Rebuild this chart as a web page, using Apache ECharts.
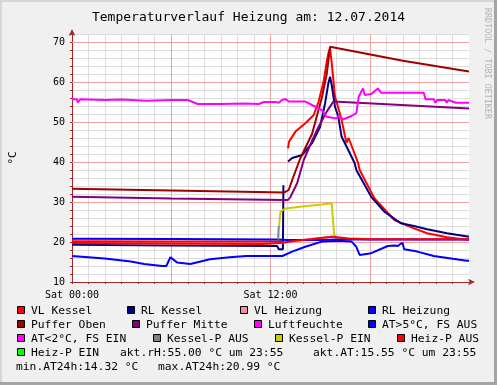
<!DOCTYPE html>
<html><head><meta charset="utf-8">
<script src="https://cdn.jsdelivr.net/npm/echarts@6/dist/echarts.min.js"></script>
<style>html,body{margin:0;padding:0;background:#F0F0F0}#c{width:497px;height:385px}</style>
</head><body><div id="c"></div><script>
// ---- data (time in hours since Sat 00:00, values in °C / %) ----
const seriesNames = ['VL Kessel','RL Kessel','VL Heizung','RL Heizung','Puffer Oben','Puffer Mitte','Luftfeuchte','AT>5°C, FS AUS','AT<2°C, FS EIN','Kessel-P AUS','Kessel-P EIN','Heiz-P AUS','Heiz-P EIN'];
const xTickLabels = {0:'Sat 00:00', 12:'Sat 12:00'};

const vlKesselT = [0,6,12.8,12.95,13.06,13.12,13.51,14.11,14.61,14.91,15.21,15.4,15.5,15.6,15.7,15.9,16.1,16.3,16.5,16.6,16.72,16.8,17.0,17.3,17.39,18.29,19.48,20.67,21.47,22.67,24];
const vlKesselV = [20.2,20.15,20.1,null,43.4,45.1,47.6,49.7,51.75,55.1,60.1,65.1,67.2,68.4,64.7,56.3,53.5,50.5,46.5,44.8,46.0,45.5,43,39.7,38,30.9,25.5,23.4,22.2,21.2,20.5];

const rlKesselT = [0,6,12.4,12.5,12.75,12.78,12.85,13.06,13.31,13.91,14.51,15.0,15.3,15.5,15.6,15.7,15.9,16.1,16.3,16.7,17.09,17.19,18.09,18.88,19.88,20.67,21.47,22.67,24];
const rlKesselV = [19.3,19.15,19.0,18.2,18.2,34.2,null,40.1,41,41.75,44.7,48.8,54.7,59.7,61.3,59.25,53.8,51.3,46.3,43,39.7,38,31.3,27.6,24.7,24,23.2,22.2,21.3];

const vlHeizungT = [0,6,11.5,12.72,13.51,14.51,15.7,16.7,18,24];
const vlHeizungV = [19.75,19.65,19.5,19.8,20.3,20.75,21.3,20.9,20.7,20.7];

const rlHeizungT = [0,6,12.4,13,15,16,24];
const rlHeizungV = [20.8,20.75,20.6,20.5,20.5,20.6,20.6];

const pufferObenT = [0,6,12.84,13.1,13.4,13.81,14.51,15.1,15.4,15.6,15.7,20,24];
const pufferObenV = [33.3,32.9,32.4,33,36.5,41,47,56,62,68.8,68.5,65.3,62.6];

const pufferMitteT = [0,6,12.84,13.06,13.21,13.61,14.01,14.51,14.91,15.4,15.8,24];
const pufferMitteV = [31.3,30.9,30.5,30.5,31.3,34.7,40.5,45.3,48.8,52.6,55.1,53.4];

const luftT = [0,0.3,0.35,0.5,2,2.1,3,4.5,6,7,7.3,7.6,9,10.5,11.3,11.6,12.3,12.5,12.7,12.91,13.12,14.11,14.51,15.1,15.4,16,16.1,16.4,16.9,17.19,17.33,17.59,17.69,18.09,18.49,18.69,21.27,21.37,21.87,21.97,22.07,22.57,22.65,22.75,23.2,24];
const luftV = [55.7,55.7,54.9,55.7,55.5,55.2,55.6,55.3,55.5,55.5,55.0,54.5,54.5,54.6,54.5,55.0,55.0,54.8,55.5,55.75,55.1,55.1,54.25,53,51.3,50.9,51.5,50.7,51.5,52.2,56.3,58.4,56.75,57,58.4,57.3,57.3,55.7,55.7,54.8,55.5,55.5,54.8,55.5,54.8,54.8];

const atT = [0,1.97,3.56,4.36,5.45,5.7,5.95,6.35,7.15,8.34,9.53,10.53,11.52,12.72,13.31,14.1,15.1,16.1,16.9,17.19,17.39,18.09,19.09,19.5,19.6,19.7,19.85,19.98,20.08,20.88,21.87,23.86,24];
const atV = [16.5,15.9,15.1,14.5,14.0,14.0,16.2,14.9,14.5,15.7,16.2,16.5,16.5,16.5,17.6,18.8,20.1,20.3,20.1,18.8,16.75,17.2,19.0,19.1,19.6,19.0,19.5,19.8,18.2,17.6,16.5,15.3,15.3];

const kesselPAusT = [12.46,12.5];
const kesselPAusV = [20.6,24];

const kesselPEinT = [12.52,12.6,12.91,13.91,15.1,15.7,15.78,15.85,16.0];
const kesselPEinV = [24,27.6,28.4,28.9,29.4,29.7,29.7,21.75,21.3];

const yMajor = [20,30,40,50,60,70];
const xMajor = [6,12,18];

// ---- chart ----
const MONO = '"DejaVu Sans Mono", monospace';
const colors = {
  'VL Kessel':'#FF0000','RL Kessel':'#000080','VL Heizung':'#FF88A0','RL Heizung':'#0000FF',
  'Puffer Oben':'#A00000','Puffer Mitte':'#800080','Luftfeuchte':'#FF00FF','AT>5°C, FS AUS':'#0000FF',
  'AT<2°C, FS EIN':'#FF00FF','Kessel-P AUS':'#808080','Kessel-P EIN':'#CCCC00','Heiz-P AUS':'#FF0000','Heiz-P EIN':'#00FF00'
};
function pts(t, v){ return t.map((h,i)=>[h, v[i]===null ? '-' : v[i]]); }
function line(name, t, v, extra){
  return Object.assign({
    name, type:'line', data: t ? pts(t, v) : [], showSymbol:false, symbol:'none', silent:true,
    connectNulls:false, z:2,
    lineStyle:{color:colors[name], width:2}, itemStyle:{color:colors[name]}
  }, extra||{});
}
const series = [
  line('VL Kessel', vlKesselT, vlKesselV, {markLine:{silent:true, symbol:'none', z:1, animation:false, label:{show:false},
        lineStyle:{color:'#F2A0A0', type:'solid', width:1},
        data: yMajor.map(v=>({yAxis:v})).concat(xMajor.map(v=>({xAxis:v})))}}),
  line('RL Kessel', rlKesselT, rlKesselV),
  line('VL Heizung', vlHeizungT, vlHeizungV),
  line('RL Heizung', rlHeizungT, rlHeizungV),
  line('Puffer Oben', pufferObenT, pufferObenV),
  line('Puffer Mitte', pufferMitteT, pufferMitteV),
  line('Luftfeuchte', luftT, luftV),
  line('AT>5°C, FS AUS', atT, atV),
  line('Kessel-P AUS', kesselPAusT, kesselPAusV),
  line('Kessel-P EIN', kesselPEinT, kesselPEinV),
  line('Heiz-P AUS', vlHeizungT, vlHeizungV)
];

// legend layout
const rowsY = [311,325,339,353,367];
const legendLayout = [
  ['VL Kessel',17,0],['RL Kessel',127,0],['VL Heizung',240,0],['RL Heizung',368,0],
  ['Puffer Oben',17,1],['Puffer Mitte',132,1],['Luftfeuchte',254,1],['AT>5°C, FS AUS',368,1],
  ['AT<2°C, FS EIN',17,2],['Kessel-P AUS',153,2],['Kessel-P EIN',275,2],['Heiz-P AUS',397,2],
  ['Heiz-P EIN',17,3]
];
const extraTexts = [
  ['akt.rH:55.00 °C um 23:55',120,3],['akt.AT:15.55 °C um 23:55',313,3],
  ['min.AT24h:14.32 °C',16,4],['max.AT24h:20.99 °C',158,4]
];
const LFONT = '11.3px "DejaVu Sans Mono", monospace';
const graphic = [];
legendLayout.forEach(([name,x,r])=>{
  const y = rowsY[r];
  graphic.push({type:'rect', silent:true, shape:{x:x+0.5, y:y-4.5, width:7, height:7}, style:{fill:colors[name], stroke:'#000', lineWidth:1}});
  graphic.push({type:'text', silent:true, x:x+14, y:y, style:{text:name, font:LFONT, fill:'#000', align:'left', verticalAlign:'middle', textAlign:'left', textVerticalAlign:'middle'}});
});
extraTexts.forEach(([txt,x,r])=>{
  graphic.push({type:'text', silent:true, x:x, y:rowsY[r], style:{text:txt, font:LFONT, fill:'#000', align:'left', verticalAlign:'middle', textAlign:'left', textVerticalAlign:'middle'}});
});
// frame
graphic.push({type:'rect', silent:true, shape:{x:0,y:0,width:497,height:2}, style:{fill:'#D6D6D6'}});
graphic.push({type:'rect', silent:true, shape:{x:0,y:0,width:2,height:385}, style:{fill:'#D6D6D6'}});
graphic.push({type:'rect', silent:true, shape:{x:494,y:0,width:3,height:385}, style:{fill:'#A4A4A4'}});
graphic.push({type:'rect', silent:true, shape:{x:0,y:382,width:497,height:3}, style:{fill:'#A4A4A4'}});
// watermark
graphic.push({type:'text', silent:true, x:487, y:8, rotation:-Math.PI/2,
  style:{text:'RRDTOOL / TOBI OETIKER', font:'8.4px "DejaVu Sans Mono", monospace', fill:'#B4B4B4', align:'left', verticalAlign:'middle', textAlign:'left', textVerticalAlign:'middle'}});

const axisRed = '#A02828';
const option = {
  animation:false,
  backgroundColor:'#F0F0F0',
  title:{text:'Temperaturverlauf Heizung am: 12.07.2014', left:'center', top:6,
    textStyle:{fontFamily:MONO, fontSize:13, fontWeight:'normal', color:'#000'}},
  grid:{left:67, top:34, width:402, height:248, show:true, backgroundColor:'#FFFFFF', borderWidth:0},
  xAxis:{type:'value', min:0, max:24, interval:1,
    axisLine:{show:true, onZero:false, lineStyle:{color:axisRed, width:1}, symbol:['none','arrow'], symbolSize:[5,7], symbolOffset:[0,6]},
    axisTick:{show:true, length:2, lineStyle:{color:axisRed}},
    axisLabel:{margin:8, fontFamily:MONO, fontSize:10, color:'#000', formatter:v=> xTickLabels[v] || ''},
    splitLine:{show:true, showMaxLine:false, lineStyle:{color:'#DCDCDC', width:1}}},
  yAxis:{type:'value', min:10, max:72, interval:2,
    name:'°C', nameLocation:'middle', nameGap:53, nameRotate:90,
    nameTextStyle:{fontFamily:MONO, fontSize:11, color:'#000'},
    axisLine:{show:true, onZero:false, lineStyle:{color:axisRed, width:1}, symbol:['none','arrow'], symbolSize:[5,7], symbolOffset:[0,5]},
    axisTick:{show:true, length:2, lineStyle:{color:axisRed}},
    axisLabel:{margin:7, fontFamily:MONO, fontSize:10, color:'#000', formatter:v=> (v%10===0 ? String(v) : '')},
    splitLine:{show:true, lineStyle:{color:'#DCDCDC', width:1}}},
  graphic:graphic,
  series:series
};
const chart = echarts.init(document.getElementById('c'), null, {renderer:'canvas'});
chart.setOption(option);
</script></body></html>
